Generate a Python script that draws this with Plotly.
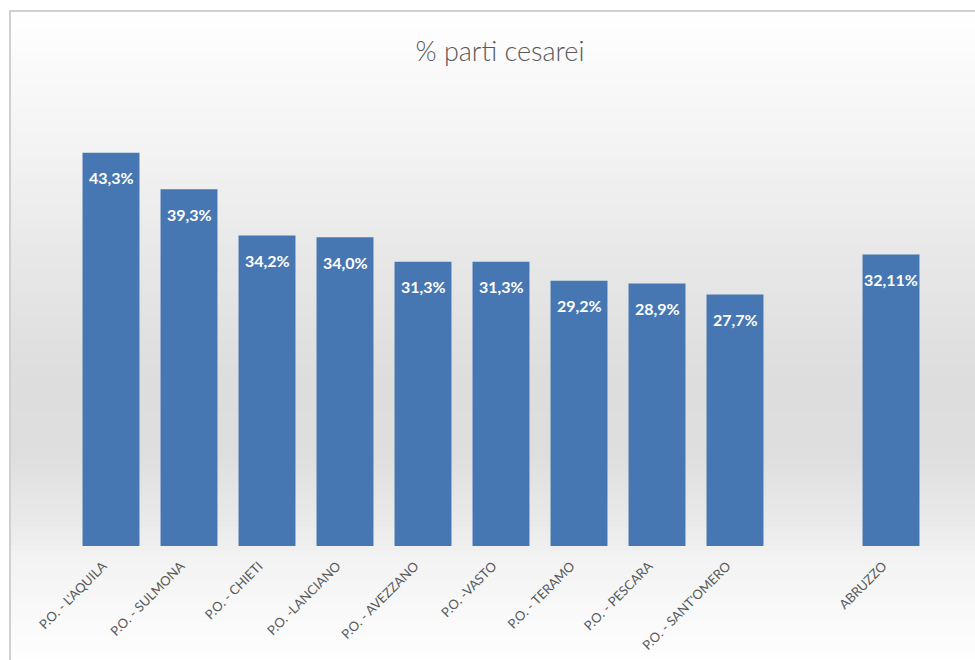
import plotly.graph_objects as go

categories = ["P.O. - L'AQUILA", "P.O. - SULMONA", "P.O. - CHIETI", "P.O. -LANCIANO",
              "P.O. - AVEZZANO", "P.O. -VASTO", "P.O. - TERAMO", "P.O. - PESCARA",
              "P.O. - SANT'OMERO", "ABRUZZO"]
values = [43.3, 39.3, 34.2, 34.0, 31.3, 31.3, 29.2, 28.9, 27.7, 32.11]
decimals = [1, 1, 1, 1, 1, 1, 1, 1, 1, 2]
positions = [0, 1, 2, 3, 4, 5, 6, 7, 8, 10]   # blank slot before ABRUZZO

labels = [f"{v:.{d}f}".replace(".", ",") + "%" for v, d in zip(values, decimals)]

W, H = 975, 660
L, R, T, B = 72, 45, 92, 114
plot_h = H - T - B
plot_w = W - L - R

fig = go.Figure()
fig.add_trace(go.Bar(
    x=positions, y=values, width=0.73,
    marker=dict(color="#4677b3", line=dict(width=0)),
    hoverinfo="skip",
))

# background gradient (decorative)
stops = [(0, 255), (11, 255), (90, 248), (150, 243), (250, 232), (380, 221), (450, 222),
         (520, 233), (560, 243), (620, 250), (660, 254)]
def grey(py):
    for (y0, g0), (y1, g1) in zip(stops[:-1], stops[1:]):
        if y0 <= py <= y1:
            return g0 + (g1 - g0) * (py - y0) / (y1 - y0)
    return 255

shapes = []
step = 6
py = 11
while py < H:
    g = int(round(grey(py + step / 2)))
    y0p = (H - B - py) / plot_h
    y1p = (H - B - (py + step)) / plot_h
    shapes.append(dict(type="rect", xref="paper", yref="paper",
                       x0=(10 - L) / plot_w, x1=(W + 20 - L) / plot_w,
                       y0=y1p, y1=y0p, fillcolor=f"rgb({g},{g},{g})",
                       line=dict(width=0), layer="below"))
    py += step
# frame border
shapes.append(dict(type="rect", xref="paper", yref="paper",
                   x0=(10 - L) / plot_w, x1=(W + 20 - L) / plot_w,
                   y0=(H - B - (H + 20)) / plot_h, y1=(H - B - 11) / plot_h,
                   line=dict(color="#d0d0d0", width=2), fillcolor="rgba(0,0,0,0)",
                   layer="above"))

annotations = [dict(x=p, y=v, text=f"<b>{t}</b>", showarrow=False, yshift=-25,
                    font=dict(family="Lato", size=16, color="white"))
               for p, v, t in zip(positions, values, labels)]

fig.update_layout(
    width=W, height=H,
    margin=dict(l=L, r=R, t=T, b=B, autoexpand=False),
    paper_bgcolor="white", plot_bgcolor="rgba(0,0,0,0)",
    title=dict(text="% parti cesarei", x=(500 - L) / plot_w, xref="paper", xanchor="center",
               y=1 - 52 / H, yanchor="middle",
               font=dict(family="Lato", size=27, color="#595959", weight=300)),
    showlegend=False,
    shapes=shapes,
    annotations=annotations,
    xaxis=dict(range=[-0.5, 10.5], tickmode="array", tickvals=positions, ticktext=categories,
               tickangle=-45, showgrid=False, zeroline=False, showline=False, ticks="",
               ticklabelstandoff=9, ticklabelshift=-8,
               tickfont=dict(family="Lato", size=13, color="#595959")),
    yaxis=dict(range=[0, 50], visible=False, showgrid=False, zeroline=False),
    bargap=0.27,
)

fig.write_html("out.html", config={"displayModeBar": False},
               post_script="document.body.style.margin='0px';")
